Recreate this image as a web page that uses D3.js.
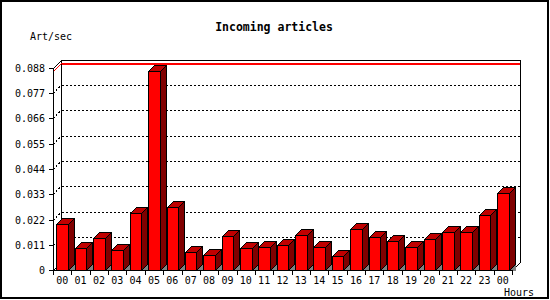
<!DOCTYPE html>
<html>
<head>
<meta charset="utf-8">
<script src="https://cdn.jsdelivr.net/npm/d3@7"></script>
<style>
  body { margin: 0; background: #fff; }
  text { font-family: "DejaVu Sans Mono", monospace; fill: #000; }
</style>
</head>
<body>
<div id="chart"></div>
<script>
// hours on the x axis (last one wraps back to 00)
const hours = ["00","01","02","03","04","05","06","07","08","09","10","11",
               "12","13","14","15","16","17","18","19","20","21","22","23","00"];
// articles per second for each hour
const rates = [0.0199, 0.0096, 0.0139, 0.0087, 0.0247, 0.0866, 0.0273, 0.0077,
               0.0064, 0.0147, 0.0096, 0.0100, 0.0107, 0.0151, 0.0100, 0.0060,
               0.0177, 0.0142, 0.0125, 0.0099, 0.0134, 0.0164, 0.0164, 0.0238, 0.0334];
const yTicks = [0, 0.011, 0.022, 0.033, 0.044, 0.055, 0.066, 0.077, 0.088];

const W = 550, H = 300;
const pLeft = 53, pRight = 512, pTop = 68, pBottom = 270;
const depth = 8, barDepth = 6;

const svg = d3.select("#chart").append("svg").attr("width", W).attr("height", H)
  .attr("shape-rendering", "crispEdges");

svg.append("rect").attr("x", 1).attr("y", 1).attr("width", W - 3).attr("height", H - 3)
  .attr("fill", "#fff").attr("stroke", "#000").attr("stroke-width", 2);

let x = d3.scaleBand().domain(d3.range(hours.length)).range([pLeft, pRight])
      .paddingInner(0.37).paddingOuter(0.185),
    y = d3.scaleLinear().domain([0, 0.088]).range([pBottom, pTop]),
    step = (pRight - pLeft) / hours.length;

// dotted gridlines on the back wall (with their slanted bit)
yTicks.slice(1, -1).forEach(t => {
  let yy = Math.round(y(t)) + 0.5;
  svg.append("path")
    .attr("d", `M${pLeft},${yy}L${pLeft + depth},${yy - depth}H${pRight + depth}`)
    .attr("fill", "none").attr("stroke", "#000").attr("stroke-dasharray", "2,2");
});

// back wall frame
svg.append("path")
  .attr("d", `M${pLeft + depth + 0.5},${pBottom - depth}V${pTop - depth + 0.5}H${pRight + depth + 0.5}V${pBottom - depth}
              M${pLeft + 0.5},${pTop + 0.5}L${pLeft + depth + 0.5},${pTop - depth + 0.5}
              M${pLeft + 0.5},${pBottom + 0.5}L${pLeft + depth + 0.5},${pBottom - depth + 0.5}
              M${pRight + 0.5},${pBottom + 0.5}L${pRight + depth + 0.5},${pBottom - depth + 0.5}`)
  .attr("fill", "none").attr("stroke", "#000");

// red line at the maximum value
let ym = Math.round(y(d3.max(rates))) + 0.5;
svg.append("path")
  .attr("d", `M${pLeft + 0.5},${ym}L${pLeft + depth + 0.5},${ym - depth}`)
  .attr("fill", "none").attr("stroke", "#ff0000");
svg.append("rect")
  .attr("x", pLeft + depth + 1).attr("y", ym - depth - 1)
  .attr("width", pRight - pLeft - 1).attr("height", 2)
  .attr("fill", "#ff0000");

// 3D bars
let bars = svg.append("g").attr("stroke", "#000");
rates.forEach((v, i) => {
  let x0 = Math.round(x(i)) + 0.5, x1 = Math.round(x(i) + x.bandwidth()) + 0.5,
      y0 = Math.round(y(v)) + 0.5, yb = pBottom + 0.5, d = barDepth;
  bars.append("path").attr("fill", "#808080").attr("stroke", "none")
    .attr("d", `M${x1},${yb}L${x1 + d},${yb - d}V${yb}Z`);
  bars.append("path").attr("fill", "#800000")
    .attr("d", `M${x1},${y0}L${x1 + d},${y0 - d}V${yb - d}L${x1},${yb}Z`);
  bars.append("path").attr("fill", "#c00000")
    .attr("d", `M${x0},${y0}L${x0 + d},${y0 - d}H${x1 + d}L${x1},${y0}Z`);
  bars.append("rect").attr("fill", "#f00")
    .attr("x", x0).attr("y", y0).attr("width", x1 - x0).attr("height", yb - y0);
});

// front axes
let axes = svg.append("g").attr("stroke", "#000").attr("fill", "none");
axes.append("path").attr("d", `M${pLeft + 0.5},${pTop}V${pBottom + 0.5}H${pRight + 0.5}`);
yTicks.forEach(t => {
  let yy = Math.round(y(t)) + 0.5;
  axes.append("path").attr("d", `M${pLeft - 4},${yy}H${pLeft}`);
  svg.append("text").attr("x", pLeft - 8).attr("y", yy + 3.5)
    .attr("text-anchor", "end").style("font-size", "10px")
    .text(t === 0 ? "0" : d3.format(".3f")(t));
});
d3.range(hours.length + 1).forEach(i => {
  let xx = Math.round(pLeft + i * step) + 0.5;
  axes.append("path").attr("d", `M${xx},${pBottom}V${pBottom + 5}`);
});
hours.forEach((h, i) => {
  svg.append("text").attr("x", x(i) + x.bandwidth() / 2).attr("y", 284)
    .attr("text-anchor", "middle").style("font-size", "10px").text(h);
});

svg.append("text").attr("x", 274).attr("y", 30.5).attr("text-anchor", "middle")
  .style("font-size", "11.5px").style("font-weight", "bold").text("Incoming articles");
svg.append("text").attr("x", 30).attr("y", 40).style("font-size", "10px").text("Art/sec");
svg.append("text").attr("x", 504).attr("y", 296).style("font-size", "10px").text("Hours");
</script>
</body>
</html>
